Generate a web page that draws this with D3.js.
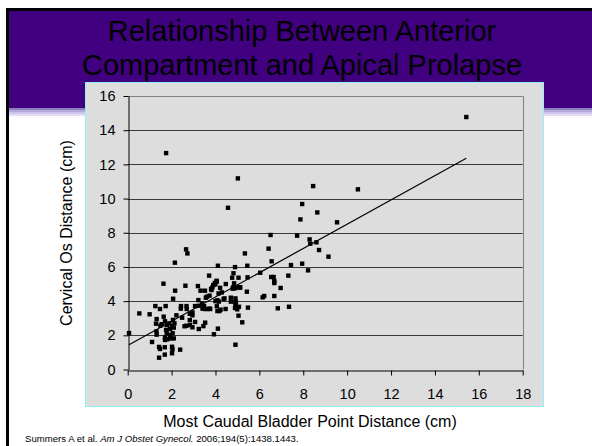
<!DOCTYPE html>
<html>
<head>
<meta charset="utf-8">
<script src="https://cdn.jsdelivr.net/npm/d3@7"></script>
<style>
  body { margin: 0; background: #fff; }
  svg { display: block; font-family: Arial, "Liberation Sans", sans-serif; }
</style>
</head>
<body>
<script>
var width = 592, height = 446;

var titleLines = ["Relationship Between Anterior", "Compartment and Apical Prolapse"];
var xTitle = "Most Caudal Bladder Point Distance (cm)";
var yTitle = "Cervical Os Distance (cm)";
var xTicks = [0, 2, 4, 6, 8, 10, 12, 14, 16, 18];
var yTicks = [0, 2, 4, 6, 8, 10, 12, 14, 16];

// bladder point (cm), cervical os (cm)
var bladder = [1.75,5.02,4.57,8.45,7.95,8.64,7.87,9.54,10.49,15.43,
  2.66,2.72,2.15,6.51,6.42,7.72,8.29,8.32,8.6,8.72,9.15,
  7.95,6.56,7.44,5.34,4.11,4.89,5.45,3.71,4.82,4.76,5.05,6.04,6.54,6.65,7.32,8.22,
  0.06,1.63,2.63,2.16,3.2,3.32,3.52,4.06,3.99,3.86,3.82,4.47,4.85,4.82,4.96,5.13,5.46,
  6.68,6.68,6.97,6.15,6.22,6.68,6.84,7.35,
  4.29,4.14,4.41,4.15,4.7,4.7,4.91,4.91,5.07,4.99,5.48,5.05,5.22,4.91,
  4.46,4.09,4.18,3.74,3.41,3.52,3.22,3.56,3.53,3.45,3.24,4.11,3.93,
  3.07,2.95,2.83,2.84,2.95,3.07,2.67,2.59,2.43,2.68,2.42,2.69,2.48,2.22,2.07,
  0.53,1.0,1.26,1.47,1.73,1.11,1.43,1.47,1.43,1.69,1.69,2.02,2.04,2.02,2.39,1.31,1.32,
  2.83,2.95,3.26,3.39,3.48,3.73,3.63,4.06,4.09,
  1.32,1.29,1.49,1.64,1.7,1.78,1.9,2.01,2.13,1.93,1.75,1.78,1.93,2.05,1.7,1.81,1.98,2.1,1.7,
  4.05,3.97,3.9,3.8,4.84,4.89,4.78,5.11,4.21,5.43,3.61,4.0,4.37,4.93,4.91,3.76,4.23,4.89,
  2.06,2.1,1.55];
var cervix = [12.66,11.18,9.46,10.73,9.68,9.19,8.78,8.61,10.54,14.77,
  7.03,6.79,6.25,7.87,7.07,7.83,7.61,7.36,7.44,6.99,6.6,
  6.19,6.33,6.11,6.79,6.07,5.99,6.07,5.49,5.63,5.37,5.37,5.66,5.41,5.41,5.49,5.8,
  2.13,5.02,4.9,4.61,4.88,4.61,4.61,5.14,4.98,4.8,4.65,5.0,5.04,4.81,4.82,4.81,5.39,
  5.18,5.06,4.77,4.22,4.3,4.3,3.58,3.67,
  4.51,4.45,4.16,3.97,4.2,3.97,4.16,3.93,3.67,3.52,3.62,3.15,2.76,1.45,
  3.54,3.42,3.42,3.56,3.56,3.54,4.06,4.2,2.74,2.54,2.37,2.39,2.06,
  3.71,3.17,2.89,2.6,2.47,2.78,2.56,2.53,3.71,3.71,3.56,3.54,3.03,3.17,4.14,
  3.28,3.23,3.71,3.54,3.71,1.61,1.32,1.2,0.69,1.3,0.87,1.33,1.18,0.95,1.16,2.23,2.04,
  3.26,3.34,3.73,3.85,3.71,4.32,3.54,3.7,4.05,
  2.95,2.68,2.56,3.09,2.82,2.6,2.7,2.53,2.7,2.37,2.31,2.12,2.02,2.12,1.88,1.77,1.82,1.82,1.73,
  5.19,5.06,4.94,4.71,4.84,4.75,4.73,4.78,4.78,4.55,4.26,4.0,4.12,3.95,3.77,3.54,3.5,3.6,
  2.9,2.45,2.65];

// linear trend line
var trendIntercept = 1.40;
var trendSlope = 0.71;

var svg = d3.select("body").append("svg")
    .attr("width", width)
    .attr("height", height);

// slide header
svg.append("rect").attr("x", 9).attr("y", 11).attr("width", width - 9).attr("height", 97).attr("fill", "#400080");
var stripes = [["#8e7fc2", 108, 2], ["#b6a9dc", 110, 2], ["#cfc5ea", 112, 2], ["#e4ddf4", 114, 2]];
stripes.forEach(function(s) {
  svg.append("rect").attr("x", 9).attr("y", s[1]).attr("width", width - 9).attr("height", s[2]).attr("fill", s[0]);
});
svg.append("rect").attr("x", 6).attr("y", 8).attr("width", width - 6).attr("height", 3).attr("fill", "#000");
svg.append("rect").attr("x", 6).attr("y", 8).attr("width", 3).attr("height", height - 8).attr("fill", "#000");

svg.selectAll("text.title")
  .data(titleLines)
  .enter().append("text")
    .attr("class", "title")
    .attr("x", 302)
    .attr("y", function(d, i) { return 41 + i * 34; })
    .attr("text-anchor", "middle")
    .attr("font-size", "29px")
    .attr("fill", "#000")
    .text(function(d) { return d; });

// chart panel
svg.append("rect")
  .attr("x", 85.5).attr("y", 82.5)
  .attr("width", 458).attr("height", 324)
  .attr("fill", "#dddddd")
  .attr("stroke", "#8ff0f8")
  .attr("stroke-width", 1);

var x = d3.scaleLinear().domain([0, 18]).range([127.7, 522.7]);
var y = d3.scaleLinear().domain([0, 16]).range([369.5, 96]);

// grid
svg.append("g")
  .selectAll("line")
  .data(yTicks.filter(function(d) { return d > 0; }))
  .enter().append("line")
    .attr("x1", x(0)).attr("x2", x(18))
    .attr("y1", function(d) { return Math.round(y(d)) + 0.5; })
    .attr("y2", function(d) { return Math.round(y(d)) + 0.5; })
    .attr("stroke", function(d) { return d == 16 ? "#808080" : "#3a3a3a"; })
    .attr("stroke-width", 1);
svg.append("line")
  .attr("x1", Math.round(x(18)) + 0.5).attr("x2", Math.round(x(18)) + 0.5)
  .attr("y1", y(16)).attr("y2", y(0))
  .attr("stroke", "#808080");

// axes
var xAxis = svg.append("g")
  .attr("transform", "translate(0," + (Math.round(y(0)) + 0.5) + ")")
  .call(d3.axisBottom(x).tickValues(xTicks).tickSize(5).tickSizeOuter(0).tickPadding(13));
var yAxis = svg.append("g")
  .attr("transform", "translate(" + (Math.round(x(0)) + 0.5) + ",0)")
  .call(d3.axisLeft(y).tickValues(yTicks).tickSize(5).tickSizeOuter(0).tickPadding(8));
[xAxis, yAxis].forEach(function(a) {
  a.selectAll("text").attr("font-size", "14.5px").attr("font-family", "Arial, 'Liberation Sans', sans-serif").attr("fill", "#000");
  a.selectAll("line, path").attr("stroke", "#000");
});

// trend line
var xr = d3.extent(bladder);
svg.append("line")
  .attr("x1", x(xr[0])).attr("y1", y(trendIntercept + trendSlope * xr[0]))
  .attr("x2", x(xr[1])).attr("y2", y(trendIntercept + trendSlope * xr[1]))
  .attr("stroke", "#000")
  .attr("stroke-width", 1.2);

// points
var s = 4.4;
svg.append("g")
  .selectAll("rect")
  .data(d3.range(bladder.length))
  .enter().append("rect")
    .attr("x", function(i) { return x(bladder[i]) - s / 2; })
    .attr("y", function(i) { return y(cervix[i]) - s / 2; })
    .attr("width", s)
    .attr("height", s)
    .attr("fill", "#000");

// axis titles
svg.append("text")
  .attr("x", 310).attr("y", 426.5)
  .attr("text-anchor", "middle")
  .attr("font-size", "16px")
  .text(xTitle);
svg.append("text")
  .attr("transform", "translate(72,233) rotate(-90)")
  .attr("text-anchor", "middle")
  .attr("font-size", "16px")
  .text(yTitle);

// citation
var cite = svg.append("text")
  .attr("x", 25).attr("y", 442)
  .attr("font-size", "9.6px");
cite.append("tspan").text("Summers A et al. ");
cite.append("tspan").attr("font-style", "italic").text("Am J Obstet Gynecol.");
cite.append("tspan").text(" 2006;194(5):1438.1443.");
</script>
</body>
</html>
